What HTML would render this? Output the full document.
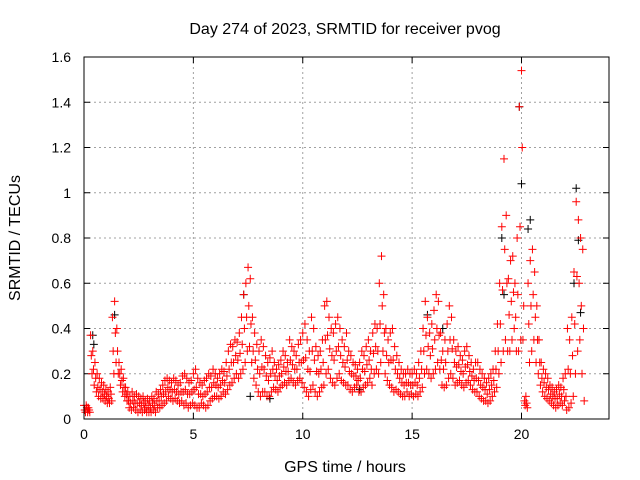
<!DOCTYPE html>
<html><head><meta charset="utf-8"><style>
body{margin:0;background:#fff;}
svg{display:block;font-family:"Liberation Sans",sans-serif;}
</style></head><body>
<svg id="c" width="640" height="480" viewBox="0 0 640 480">
<text x="345" y="34" font-size="16" text-anchor="middle">Day 274 of 2023, SRMTID for receiver pvog</text>
<text x="345" y="472" font-size="16" text-anchor="middle">GPS time / hours</text>
<text transform="translate(20,238) rotate(-90)" font-size="16" text-anchor="middle">SRMTID / TECUs</text>
<g id="grid"></g>
<g id="ticks"></g>
<g id="black"></g>
<g id="red"></g>
<rect x="84" y="57" width="525" height="362" fill="none" stroke="#000" stroke-width="1"/>
</svg>
<script>
const xTicks=[0,5,10,15,20];
const yTicks=[0,0.2,0.4,0.6,0.8,1,1.2,1.4,1.6];
const yTickLabels=["0","0.2","0.4","0.6","0.8","1","1.2","1.4","1.6"];
const redHi=[.06,.06,.05,.37,.3,.25,.2,.18,.16,.15,
.13,.12,.14,.45,.52,.4,.25,.22,.18,.14,
.12,.1,.12,.1,.11,.1,.09,.1,.08,.09,
.08,.1,.09,.12,.11,.13,.15,.17,.18,.17,
.16,.18,.17,.15,.16,.19,.2,.18,.16,.17,
.2,.22,.18,.16,.15,.17,.18,.2,.19,.22,
.2,.18,.2,.22,.21,.25,.3,.33,.32,.35,
.34,.38,.45,.55,.6,.67,.62,.45,.38,.33,
.3,.35,.32,.28,.25,.27,.3,.25,.22,.24,
.26,.3,.28,.25,.35,.32,.3,.28,.33,.35,
.38,.42,.35,.3,.45,.4,.32,.28,.3,.35,
.5,.52,.45,.4,.38,.42,.45,.4,.35,.32,
.38,.3,.28,.25,.24,.22,.25,.3,.28,.32,
.35,.3,.38,.42,.4,.6,.72,.55,.4,.35,
.38,.4,.32,.28,.25,.22,.2,.2,.22,.2,
.2,.22,.2,.25,.3,.4,.52,.45,.38,.42,
.48,.55,.52,.38,.3,.35,.42,.5,.45,.35,
.3,.32,.28,.26,.3,.32,.28,.25,.22,.25,
.25,.22,.2,.18,.16,.18,.2,.22,.3,.42,
.6,.85,1.15,.9,.62,.7,.72,.6,.8,1.38,
1.54,.5,.1,.6,.7,.75,.65,.5,.35,.25,
.22,.2,.18,.15,.14,.12,.13,.15,.14,.18,
.2,.4,.35,.45,.65,.96,.88,.8,.75];
const redMid=[.04,.05,.04,.28,.22,.18,.14,.13,.12,.11,
.1,.09,.11,.3,.38,.3,.2,.17,.14,.11,
.08,.07,.08,.07,.07,.07,.06,.07,.05,.06,
.05,.07,.06,.08,.08,.1,.11,.12,.14,.13,
.12,.13,.12,.11,.12,.12,.13,.11,.11,.12,
.13,.14,.11,.11,.1,.11,.12,.14,.14,.16,
.15,.14,.15,.17,.16,.19,.22,.25,.25,.28,
.26,.29,.33,.4,.45,.5,.42,.3,.26,.22,
.2,.23,.22,.19,.17,.2,.22,.19,.17,.19,
.2,.23,.21,.21,.26,.24,.22,.22,.25,.25,
.26,.27,.22,.21,.3,.26,.21,.2,.22,.25,
.35,.37,.31,.28,.26,.3,.32,.28,.25,.23,
.26,.21,.2,.19,.19,.17,.18,.22,.21,.24,
.26,.22,.29,.32,.3,.42,.5,.38,.28,.25,
.26,.26,.22,.2,.18,.16,.15,.16,.16,.15,
.15,.16,.15,.18,.22,.3,.37,.32,.28,.31,
.35,.4,.37,.26,.22,.25,.3,.35,.31,.25,
.23,.24,.21,.2,.23,.24,.21,.19,.17,.18,
.17,.15,.14,.13,.11,.13,.15,.17,.22,.3,
.42,.57,.75,.6,.46,.52,.56,.45,.55,.85,
1.2,.08,.07,.42,.5,.55,.45,.35,.25,.18,
.16,.14,.13,.11,.1,.09,.09,.11,.1,.13,
.1,.22,.2,.28,.42,.63,.6,.5,.4];
const redLo=[.03,.03,.03,.2,.15,.12,.1,.09,.09,.08,
.07,.07,.08,.2,.25,.2,.15,.12,.1,.08,
.05,.04,.05,.04,.03,.04,.03,.04,.03,.03,
.03,.04,.03,.05,.05,.06,.07,.08,.1,.09,
.08,.09,.08,.07,.08,.06,.07,.05,.06,.07,
.06,.05,.05,.07,.06,.05,.06,.08,.09,.1,
.1,.09,.1,.12,.11,.13,.15,.16,.18,.2,
.18,.2,.22,.25,.3,.32,.25,.18,.15,.12,
.1,.12,.12,.1,.1,.12,.14,.13,.12,.14,
.15,.16,.15,.17,.18,.16,.15,.17,.18,.16,
.14,.12,.1,.13,.15,.12,.1,.12,.14,.15,
.2,.22,.18,.16,.15,.18,.2,.17,.16,.15,
.15,.13,.12,.14,.15,.12,.12,.14,.15,.16,
.18,.15,.2,.22,.2,.25,.3,.2,.17,.15,
.14,.12,.13,.12,.11,.1,.1,.12,.1,.11,
.1,.11,.1,.12,.14,.2,.22,.2,.18,.2,
.22,.25,.22,.15,.14,.15,.18,.2,.18,.15,
.16,.17,.15,.14,.16,.17,.15,.13,.12,.12,
.1,.09,.08,.08,.07,.08,.1,.12,.14,.2,
.25,.3,.35,.3,.3,.35,.4,.3,.3,.35,
.35,.06,.05,.25,.3,.35,.25,.2,.15,.12,
.1,.09,.08,.07,.06,.05,.06,.07,.06,.08,
.04,.05,.07,.1,.2,.3,.35,.2,.08];
const blackT=[0.4,0.45,1.4,7.6,7.3,15.7,16.4,19.1,19.2,19.9,20.0,20.4,20.3,22.5,22.6,22.7,22.4,12.6,8.5];
const blackY=[0.37,0.33,0.46,0.1,0.55,0.46,0.4,0.8,0.55,1.38,1.04,0.88,0.84,1.02,0.79,0.47,0.6,0.13,0.09];
const NS="http://www.w3.org/2000/svg";
const X0=84,X1=609,Y0=419,Y1=57;
const xs=t=>X0+t/24*(X1-X0);
const ys=v=>Y0-v/1.6*(Y0-Y1);
function mk(tag,attrs,parent){const e=document.createElementNS(NS,tag);for(const k in attrs)e.setAttribute(k,attrs[k]);parent.appendChild(e);return e;}
const grid=document.getElementById('grid'),ticks=document.getElementById('ticks');
xTicks.forEach(t=>{const x=xs(t);
 if(t>0){const g=mk('line',{x1:x,x2:x,y1:Y1,y2:Y0,stroke:'#a0a0a0','stroke-dasharray':'2,3'},grid);}
 mk('line',{x1:x,x2:x,y1:Y0,y2:Y0-6,stroke:'#000'},ticks);mk('line',{x1:x,x2:x,y1:Y1,y2:Y1+6,stroke:'#000'},ticks);
 const l=mk('text',{x:x,y:Y0+20,'font-size':14,'text-anchor':'middle'},ticks);l.textContent=t;
 
 
});
yTicks.forEach((v,i)=>{const y=ys(v);
 if(v>0&&v<1.6){const g=mk('line',{x1:X0,x2:X1,y1:y,y2:y,stroke:'#a0a0a0','stroke-dasharray':'2,3'},grid);}
 mk('line',{x1:X0,x2:X0+6,y1:y,y2:y,stroke:'#000'},ticks);mk('line',{x1:X1,x2:X1-6,y1:y,y2:y,stroke:'#000'},ticks);
 const l=mk('text',{x:X0-13,y:y+5,'font-size':14,'text-anchor':'end'},ticks);l.textContent=yTickLabels[i];
 
 
});
function plus(g,t,v,col){const x=xs(t),y=ys(v);
 const p=mk('path',{d:`M${x-4} ${y}H${x+4}M${x} ${y-4}V${y+4}`,stroke:col,'stroke-width':1,fill:'none'},g);
 
 
}
const bg=document.getElementById('black'),rg=document.getElementById('red');
blackT.forEach((t,i)=>plus(bg,t,blackY[i],'#000'));
redHi.forEach((v,i)=>{const t=i*0.1;plus(rg,t,v,'#f00');plus(rg,t+0.033,redMid[i],'#f00');plus(rg,t+0.066,redLo[i],'#f00');});
</script>
</body></html>
